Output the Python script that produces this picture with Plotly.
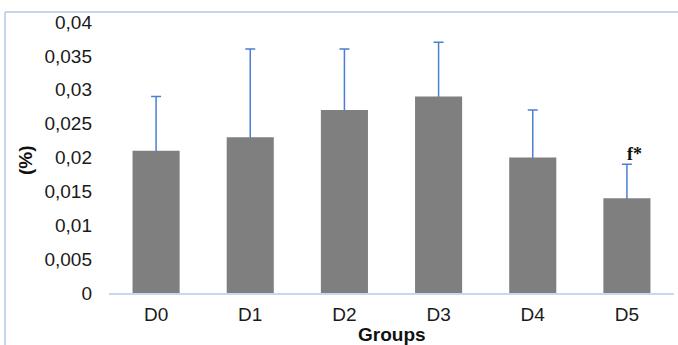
import plotly.graph_objects as go

# Group means and upper standard deviations
groups = ["D0", "D1", "D2", "D3", "D4", "D5"]
means = [0.021, 0.023, 0.027, 0.029, 0.020, 0.014]
sd_upper = [0.008, 0.013, 0.009, 0.008, 0.007, 0.005]

y_ticks = [0, 0.005, 0.01, 0.015, 0.02, 0.025, 0.03, 0.035, 0.04]
y_tick_text = ["0", "0,005", "0,01", "0,015", "0,02", "0,025", "0,03", "0,035", "0,04"]

sig_group = "D5"
sig_label = "f*"

W, H = 678, 345
ML, MR, MT, MB = 109, 4, 22, 52
plot_w = W - ML - MR
plot_h = H - MT - MB
y_range = [0, 0.04]

fig = go.Figure()
# Error bars live on the base y axis; the bars sit on an overlaid axis
# drawn above it, so only the upper half of each error bar shows.
fig.add_trace(go.Scatter(
    x=groups,
    y=means,
    mode="markers",
    marker=dict(size=1, color="rgba(0,0,0,0)"),
    error_y=dict(
        type="data",
        array=sd_upper,
        color="#4a7fd4",
        thickness=1.5,
        width=5,
    ),
    hoverinfo="skip",
    showlegend=False,
    yaxis="y",
))
fig.add_trace(go.Bar(
    x=groups,
    y=means,
    marker=dict(color="#7f7f7f", line=dict(width=0)),
    width=0.5,
    showlegend=False,
    yaxis="y2",
))

tick_font = dict(family="Liberation Sans, Arial, sans-serif", size=19, color="#1a1a1a")

fig.update_layout(
    width=W,
    height=H,
    margin=dict(l=ML, r=MR, t=MT, b=MB),
    paper_bgcolor="white",
    plot_bgcolor="white",
    bargap=0.5,
    xaxis=dict(
        showgrid=False,
        showline=True,
        linecolor="#c8d6ee",
        linewidth=1.5,
        ticks="",
        tickfont=tick_font,
        ticklabelstandoff=3,
        zeroline=False,
    ),
    yaxis=dict(
        range=y_range,
        tickvals=y_ticks,
        ticktext=y_tick_text,
        showgrid=False,
        showline=False,
        zeroline=False,
        ticks="",
        tickfont=tick_font,
        ticklabelstandoff=16,
    ),
    yaxis2=dict(
        range=y_range,
        overlaying="y",
        side="left",
        showgrid=False,
        showline=False,
        zeroline=False,
        showticklabels=False,
        ticks="",
    ),
)

# Axis titles
fig.add_annotation(
    text="<b>Groups</b>", xref="paper", yref="paper",
    x=(392 - ML) / plot_w, y=(H - MB - 347) / plot_h,
    xanchor="center", yanchor="bottom", showarrow=False,
    font=dict(family="Liberation Sans, Arial, sans-serif", size=19, color="#111111"),
)
fig.add_annotation(
    text="<b>(%)</b>", xref="paper", yref="paper",
    x=(25 - ML) / plot_w, y=(H - MB - 160) / plot_h,
    xanchor="center", yanchor="middle", textangle=-90, showarrow=False,
    font=dict(family="Liberation Sans, Arial, sans-serif", size=19, color="#111111"),
)

# Significance mark above the error bar
i = groups.index(sig_group)
fig.add_annotation(
    text="<b>" + sig_label + "</b>", x=sig_group, y=means[i] + sd_upper[i],
    xanchor="center", yanchor="bottom", xshift=8, yshift=-2, showarrow=False,
    font=dict(family="Liberation Serif, Times New Roman, serif", size=18, color="#111111"),
)

# Light frame around the chart area
left_x = (5 - ML) / plot_w
top_y = (H - MB - 12) / plot_h
fig.add_shape(type="line", xref="paper", yref="paper",
              x0=left_x, x1=left_x, y0=top_y, y1=-0.3,
              line=dict(color="#b4c7e7", width=1.5))
fig.add_shape(type="line", xref="paper", yref="paper",
              x0=left_x, x1=1.1, y0=top_y, y1=top_y,
              line=dict(color="#b4c7e7", width=1.5))

fig.write_html("out.html")
